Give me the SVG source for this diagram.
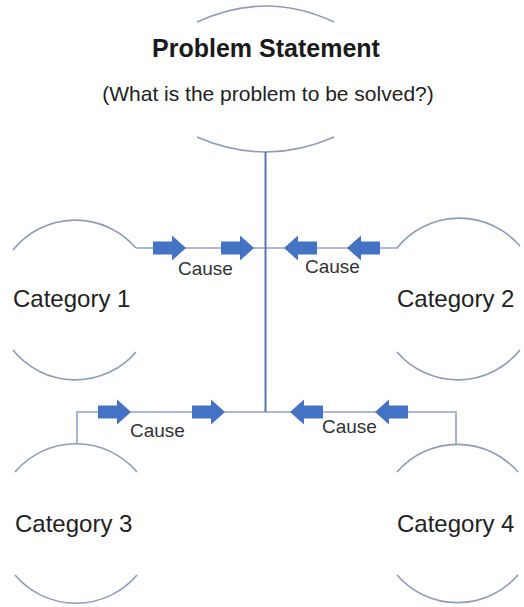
<svg xmlns="http://www.w3.org/2000/svg" width="524" height="607" viewBox="0 0 524 607">
<defs>
<style>
.arc{fill:none;stroke:#8C9BBF;stroke-width:1.6}
.ln{fill:none;stroke:#8FA3CB;stroke-width:1.6}
.spine{fill:none;stroke:#5677B0;stroke-width:2}
.arr{fill:#4472C4}
.cat{font-family:"Liberation Sans",Arial,sans-serif;font-size:24px;fill:#222}
.cause{font-family:"Liberation Sans",Arial,sans-serif;font-size:19px;fill:#333}
.title{font-family:"Liberation Sans",Arial,sans-serif;font-size:25px;font-weight:bold;fill:#1a1a1a}
.sub{font-family:"Liberation Sans",Arial,sans-serif;font-size:21px;fill:#222}
</style>
<path id="ar" d="M0,-6.5 H19 V-12.5 L33,0 L19,12.5 V6.5 H0 Z"/>
</defs>
<rect width="524" height="607" fill="#fff"/>
<g id="problem">
<path class="arc" d="M197,22 Q266,-10 334,22"/>
<path class="arc" d="M197,137 Q266,167 334,137"/>
<text class="title" x="266" y="57" text-anchor="middle">Problem Statement</text>
<text class="sub" x="268" y="101" text-anchor="middle">(What is the problem to be solved?)</text>
</g>
<g id="category1">
<path class="arc" d="M13,250 A80,80 0 0 1 136,248"/>
<path class="arc" d="M13,350 A80,80 0 0 0 136,352"/>
<text class="cat" x="13" y="307">Category 1</text>
</g>
<g id="category2">
<path class="arc" d="M397,248 A80,80 0 0 1 520,246"/>
<path class="arc" d="M397,352 A80,80 0 0 0 520,350"/>
<text class="cat" x="397" y="307">Category 2</text>
</g>
<g id="category3">
<path class="arc" d="M15,472 A80,80 0 0 1 137,472"/>
<path class="arc" d="M15,575 A80,80 0 0 0 137,575"/>
<text class="cat" x="15" y="532">Category 3</text>
</g>
<g id="category4">
<path class="arc" d="M397,472 A80,80 0 0 1 518,472"/>
<path class="arc" d="M397,575 A80,80 0 0 0 518,575"/>
<text class="cat" x="397" y="532">Category 4</text>
</g>
<g id="connectors">
<path class="ln" d="M136,248 H398"/>
<path class="ln" d="M77,444 V412 H456 V444"/>
<path class="spine" d="M265.5,152 V412"/>
<use href="#ar" class="arr" transform="translate(153,248)"/>
<use href="#ar" class="arr" transform="translate(221,248)"/>
<use href="#ar" class="arr" transform="translate(317,248) scale(-1,1)"/>
<use href="#ar" class="arr" transform="translate(380,248) scale(-1,1)"/>
<use href="#ar" class="arr" transform="translate(98,412)"/>
<use href="#ar" class="arr" transform="translate(192,412)"/>
<use href="#ar" class="arr" transform="translate(323,412) scale(-1,1)"/>
<use href="#ar" class="arr" transform="translate(408,412) scale(-1,1)"/>
<text class="cause" x="178" y="275">Cause</text>
<text class="cause" x="305" y="273">Cause</text>
<text class="cause" x="130" y="437">Cause</text>
<text class="cause" x="322" y="433">Cause</text>
</g>
</svg>
